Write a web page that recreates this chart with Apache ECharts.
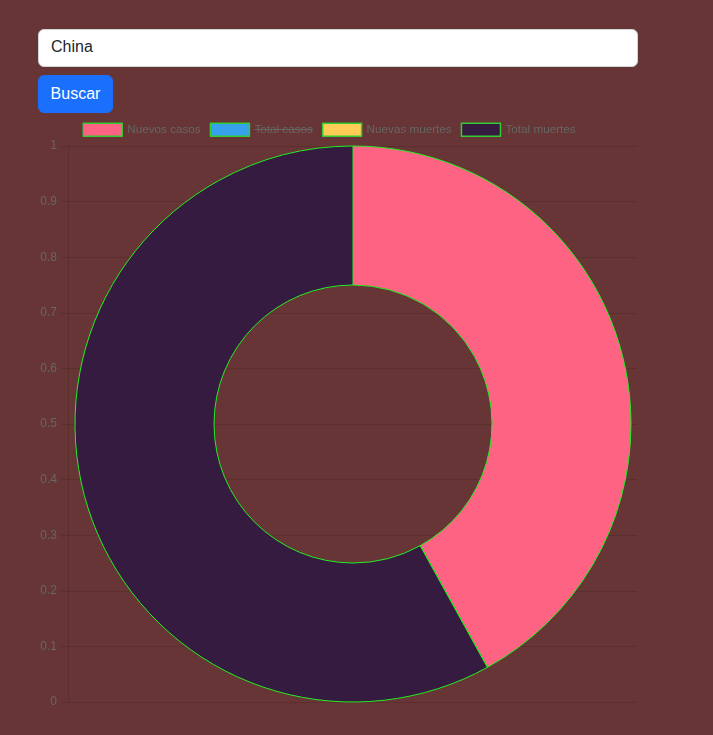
<!DOCTYPE html>
<html>
<head>
<meta charset="utf-8">
<script src="https://cdn.jsdelivr.net/npm/echarts@6/dist/echarts.min.js"></script>
<style>
  html, body { margin: 0; padding: 0; background: #673535; width: 713px; height: 735px; overflow: hidden; }
  #chart { position: absolute; left: 0; top: 0; width: 713px; height: 735px; z-index: 1; }
  #q { position: absolute; z-index: 2; left: 38px; top: 29px; width: 600px; height: 38px; box-sizing: border-box;
       border: 1px solid #ced4da; border-radius: 6px; background: #fff; padding: 5px 12px 7px 12px;
       font: 16px "Liberation Sans", Arial, sans-serif; color: #212529; outline: none; }
  #b { position: absolute; z-index: 2; left: 38px; top: 75px; width: 75px; height: 38px; box-sizing: border-box;
       border: 1px solid #1a6ffd; border-radius: 6px; background: #1a6ffd; color: #fff;
       font: 16px "Liberation Sans", Arial, sans-serif; padding: 0; }
</style>
</head>
<body>
<input id="q" type="text" value="China">
<button id="b">Buscar</button>
<div id="chart"></div>
<script>
const categories = ['Nuevos casos', 'Total casos', 'Nuevas muertes', 'Total muertes'];
const colors = ['#ff6384', '#36a2eb', '#ffcd56', '#361b41'];
const nuevosCasos = 3353;
const totalCasos = 101277;   // hidden in the reference (legend struck through)
const nuevasMuertes = 0;
const totalMuertes = 4636;
const yTicks = [0, 0.1, 0.2, 0.3, 0.4, 0.5, 0.6, 0.7, 0.8, 0.9, 1];

const chart = echarts.init(document.getElementById('chart'), null, { renderer: 'canvas' });
const border = '#22ee22';
const gridCol = 'rgba(0,0,0,0.1)';
const font = '"Liberation Sans", Arial, Helvetica, sans-serif';

chart.setOption({
  backgroundColor: 'transparent',
  animation: false,
  textStyle: { fontFamily: font },
  grid: { left: 68, right: 76, top: 146, bottom: 33, containLabel: false },
  xAxis: { type: 'value', show: false, min: 0, max: 1 },
  yAxis: {
    type: 'value', min: yTicks[0], max: yTicks[yTicks.length - 1], interval: 0.1,
    axisLine: { show: true, lineStyle: { color: gridCol, width: 1 } },
    axisTick: { show: true, length: 7, lineStyle: { color: gridCol } },
    splitLine: { show: true, lineStyle: { color: gridCol } },
    axisLabel: { color: '#666', fontSize: 12, margin: 11, fontFamily: font }
  },
  legend: {
    data: categories,
    left: 82.5, top: 122.5,
    padding: 0,
    itemWidth: 39, itemHeight: 13, itemGap: 9,
    icon: 'rect',
    selectedMode: false,
    itemStyle: { borderColor: '#33cc33', borderWidth: 1.5 },
    textStyle: { color: '#666', fontSize: 11.7, fontFamily: font }
  },
  series: [
    {
      type: 'pie',
      center: [353, 424],
      radius: [139, 278],
      startAngle: 90,
      clockwise: true,
      label: { show: false },
      labelLine: { show: false },
      emphasis: { disabled: true },
      itemStyle: { borderColor: border, borderWidth: 1 },
      data: [
        { name: categories[0], value: nuevosCasos, itemStyle: { color: colors[0] } },
        { name: categories[2], value: nuevasMuertes, itemStyle: { color: colors[2] } },
        { name: categories[3], value: totalMuertes, itemStyle: { color: colors[3] } }
      ]
    },
    {
      type: 'pie',
      center: [353, 424],
      radius: [0, 0],
      silent: true,
      label: { show: false },
      labelLine: { show: false },
      itemStyle: { borderWidth: 0 },
      data: [ { name: categories[1], value: totalCasos, itemStyle: { color: colors[1] } } ]
    }
  ],
  graphic: [{
    type: 'line', z: 100, silent: true,
    shape: { x1: 254.5, y1: 129.5, x2: 313, y2: 129.5 },
    style: { stroke: '#666', lineWidth: 1 }
  }]
});
</script>
</body>
</html>
